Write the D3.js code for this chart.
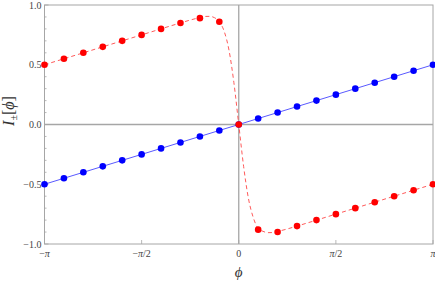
<!DOCTYPE html>
<html><head><meta charset="utf-8">
<script src="https://cdn.jsdelivr.net/npm/d3@7/dist/d3.min.js"></script>
<style>body{margin:0;background:#fff}svg{display:block}</style>
</head><body><svg id="c" width="435" height="283"></svg>
<script>
// sample points: phi = -pi + k*pi/10 (in units of pi)
const phiPts = [-1,-0.9,-0.8,-0.7,-0.6,-0.5,-0.4,-0.3,-0.2,-0.1,0,0.1,0.2,0.3,0.4,0.5,0.6,0.7,0.8,0.9,1];
const bluePts = [-0.5,-0.45,-0.4,-0.35,-0.3,-0.25,-0.2,-0.15,-0.1,-0.05,0,0.05,0.1,0.15,0.2,0.25,0.3,0.35,0.4,0.45,0.5];
const redPts = [0.5,0.55,0.6,0.65,0.7,0.75,0.8,0.85,0.89,0.86,0,-0.88,-0.9,-0.85,-0.8,-0.75,-0.7,-0.65,-0.6,-0.55,-0.5];
// dashed red curve (phi in units of pi)
const phiCurve = [-1,-0.5,-0.3,-0.25,-0.2,-0.175,-0.15,-0.125,-0.1,-0.075,-0.05,-0.025,0,0.025,0.05,0.075,0.1,0.125,0.15,0.175,0.2,0.25,0.3,0.5,1];
const redCurve = [0.5,0.75,0.85,0.874,0.895,0.904,0.905,0.894,0.86,0.78,0.62,0.35,0,-0.35,-0.62,-0.78,-0.87,-0.894,-0.905,-0.904,-0.895,-0.874,-0.85,-0.75,-0.5];
const xTicks = [-1,-0.5,0,0.5,1];
const xTickLabels = [["−",""],["−","/2"],["0",null],["","/2"],["",""]];
const yTicks = [-1,-0.5,0,0.5,1];
const yTickLabels = ["−1.0","−0.5","0.0","0.5","1.0"];

const svg = d3.select("#c");
const L=44.5,R=433,T=5,B=244;
const x = d3.scaleLinear().domain([-Math.PI,Math.PI]).range([L,R]);
const y = d3.scaleLinear().domain([-1,1]).range([B,T]);
const grey="#a6a6a6";

// zero axes
svg.append("line").attr("x1",L).attr("x2",R).attr("y1",y(0)).attr("y2",y(0)).attr("stroke",grey).attr("stroke-width",1.3);
svg.append("line").attr("x1",x(0)).attr("x2",x(0)).attr("y1",T).attr("y2",B).attr("stroke",grey).attr("stroke-width",1.3);
// frame
svg.append("rect").attr("x",L).attr("y",T).attr("width",R-L).attr("height",B-T).attr("fill","none").attr("stroke",grey).attr("stroke-width",1);

// y ticks (inward) major + minor
const yMinor = d3.range(-10,11).map(d=>d/10);
svg.selectAll(".ym").data(yMinor).enter().append("line")
  .attr("x1",L).attr("x2",d=>L+(Math.abs(d*2-Math.round(d*2))<1e-9?4:2))
  .attr("y1",d=>y(d)).attr("y2",d=>y(d)).attr("stroke",grey).attr("stroke-width",0.8);
// x ticks
svg.selectAll(".xt").data(xTicks).enter().append("line")
  .attr("x1",d=>x(d*Math.PI)).attr("x2",d=>x(d*Math.PI)).attr("y1",B).attr("y2",B-4)
  .attr("stroke",grey).attr("stroke-width",0.8);

const font="'Liberation Serif','DejaVu Serif',serif";
// y tick labels
svg.selectAll(".yl").data(yTicks).enter().append("text")
  .attr("x",L-3).attr("y",d=>y(d)).attr("dy","0.35em").attr("text-anchor","end")
  .attr("font-family",font).attr("font-size",10).attr("fill","#444")
  .text((d,i)=>yTickLabels[i]);
// x tick labels
xTicks.forEach((d,i)=>{
  const t = svg.append("text").attr("x",x(d*Math.PI)).attr("y",B+13).attr("text-anchor","middle")
    .attr("font-family",font).attr("font-size",10).attr("fill","#444");
  const lab = xTickLabels[i];
  if(lab[1]===null){ t.text(lab[0]); return; }
  t.append("tspan").text(lab[0]);
  t.append("tspan").attr("font-style","italic").text("π");
  t.append("tspan").text(lab[1]);
});

// axis labels
svg.append("text").attr("x",x(0)).attr("y",277).attr("text-anchor","middle")
  .attr("font-family",font).attr("font-size",15).attr("font-style","italic").attr("fill","#333").text("ϕ");
const yl = svg.append("text").attr("transform",`translate(14,111) rotate(-90)`).attr("text-anchor","middle")
  .attr("font-family",font).attr("font-size",16).attr("fill","#333");
yl.append("tspan").attr("font-style","italic").text("I");
yl.append("tspan").attr("font-size",10).attr("dy",3).text("±");
yl.append("tspan").attr("dy",-3).text("[");
yl.append("tspan").attr("font-style","italic").text("ϕ");
yl.append("tspan").text("]");

// blue line
const line = d3.line().x(d=>x(d[0]*Math.PI)).y(d=>y(d[1]));
svg.append("path").datum(phiPts.map((p,i)=>[p,bluePts[i]])).attr("d",line)
  .attr("fill","none").attr("stroke","#5a5aff").attr("stroke-width",1);
// red dashed curve
const cline = d3.line().x(d=>x(d[0]*Math.PI)).y(d=>y(d[1])).curve(d3.curveMonotoneX);
svg.append("path").datum(phiCurve.map((p,i)=>[p,redCurve[i]])).attr("d",cline)
  .attr("fill","none").attr("stroke","#ff5a5a").attr("stroke-width",1).attr("stroke-dasharray","4,3");

// points
svg.selectAll(".bp").data(phiPts).enter().append("circle")
  .attr("cx",d=>x(d*Math.PI)).attr("cy",(d,i)=>y(bluePts[i])).attr("r",3.3).attr("fill","#0000ff");
svg.selectAll(".rp").data(phiPts).enter().append("circle")
  .attr("cx",d=>x(d*Math.PI)).attr("cy",(d,i)=>y(redPts[i])).attr("r",3.3).attr("fill","#ff0000");
</script></body></html>
